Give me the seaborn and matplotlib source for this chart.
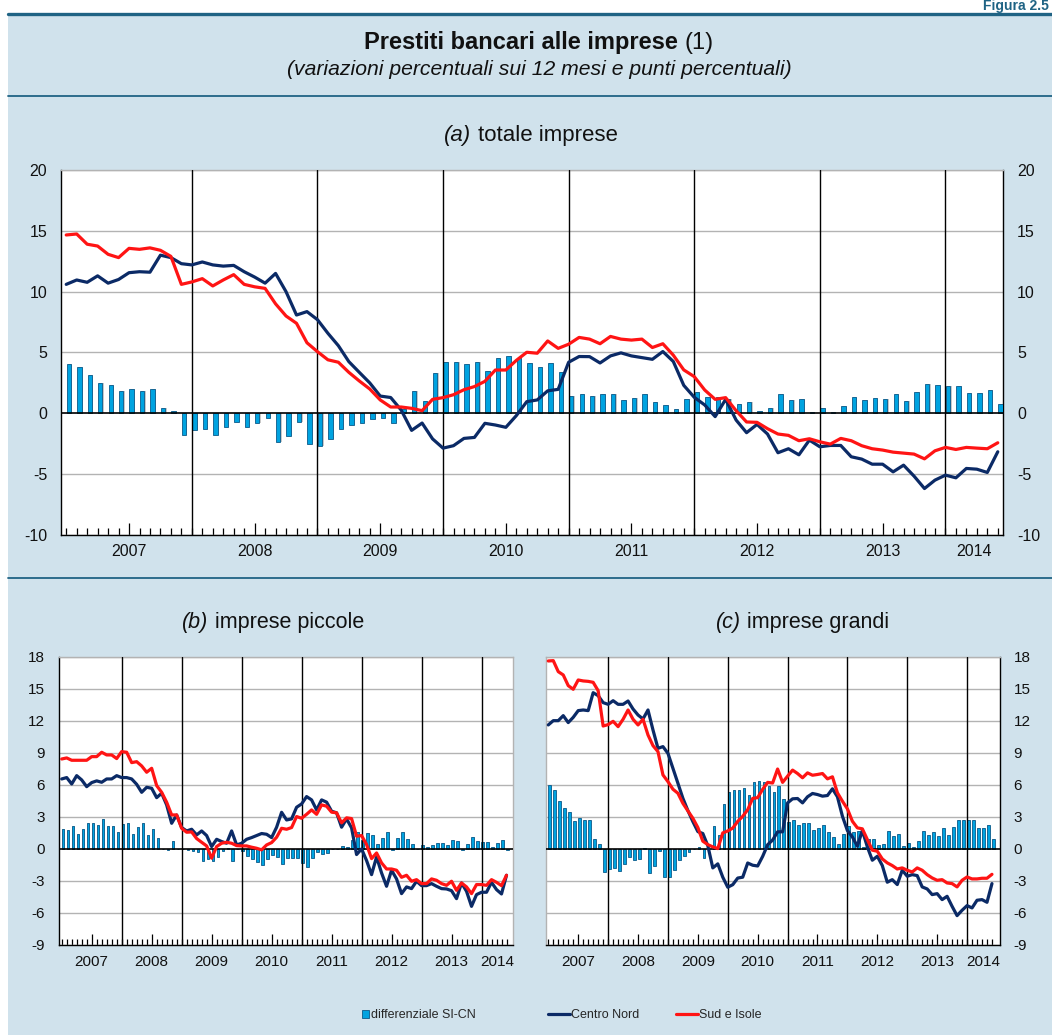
import numpy as np
import pandas as pd
import matplotlib
matplotlib.use("Agg")
import matplotlib.pyplot as plt
import matplotlib.transforms as mtransforms
from matplotlib.lines import Line2D
from matplotlib.patches import Rectangle, Patch
import seaborn as sns

# ---------------- data (monthly, Jan 2007 - Jun 2014) ----------------
years = [2007, 2008, 2009, 2010, 2011, 2012, 2013, 2014]
months = [f"{y}-{m:02d}" for y in years for m in range(1, 13)][:90]

# (a) totale imprese
a_diff = [4.05, 3.78, 3.12, 2.47, 2.33, 1.84, 1.97, 1.84, 1.97, 0.44, 0.19, -1.8,
          -1.37, -1.3, -1.75, -1.15, -0.74, -1.15, -0.82, -0.41, -2.38, -1.89, -0.68, -2.55,
          -2.66, -2.1, -1.26, -0.93, -0.77, -0.47, -0.36, -0.82, 0.33, 1.84, 1.02, 3.3,
          4.2, 4.2, 4.07, 4.2, 3.49, 4.53, 4.73, 4.53, 4.12, 3.79, 4.12, 3.38,
          1.43, 1.57, 1.43, 1.57, 1.57, 1.1, 1.26, 1.57, 0.96, 0.66, 0.33, 1.18,
          1.73, 1.32, 1.32, 1.18, 0.74, 0.91, 0.19, 0.44, 1.57, 1.1, 1.15, 0.08,
          0.41, 0.08, 0.58, 1.32, 1.07, 1.26, 1.15, 1.59, 0.99, 1.73, 2.39, 2.34,
          2.22, 2.28, 1.65, 1.65, 1.9, 0.74]
a_cn = [10.6, 10.96, 10.77, 11.3, 10.7, 11.0, 11.56, 11.64, 11.6, 13.0, 12.8, 12.3,
        12.2, 12.44, 12.2, 12.1, 12.16, 11.64, 11.2, 10.7, 11.5, 10.0, 8.08, 8.36,
        7.7, 6.58, 5.56, 4.25, 3.37, 2.5, 1.42, 1.3, 0.27, -1.4, -0.8, -2.1,
        -2.86, -2.66, -2.06, -1.98, -0.82, -0.96, -1.15, -0.19, 0.96, 1.1, 1.85, 1.97,
        4.2, 4.67, 4.66, 4.14, 4.72, 4.97, 4.72, 4.58, 4.44, 5.08, 4.26, 2.3,
        1.32, 0.69, -0.27, 1.15, -0.55, -1.59, -0.91, -1.70, -3.24, -2.91, -3.41, -2.2,
        -2.75, -2.64, -2.64, -3.57, -3.76, -4.18, -4.18, -4.81, -4.26, -5.16, -6.18, -5.49,
        -5.08, -5.3, -4.53, -4.59, -4.86, -3.16]
a_sud = [14.66, 14.74, 13.9, 13.75, 13.07, 12.8, 13.56, 13.48, 13.6, 13.4, 12.9, 10.6,
         10.8, 11.07, 10.47, 10.96, 11.4, 10.6, 10.4, 10.27, 9.0, 8.0, 7.4, 5.8,
         5.07, 4.4, 4.2, 3.37, 2.66, 2.0, 1.1, 0.52, 0.52, 0.41, 0.22, 1.15,
         1.29, 1.53, 1.94, 2.2, 2.63, 3.56, 3.56, 4.35, 5.02, 4.94, 5.95, 5.34,
         5.68, 6.24, 6.1, 5.72, 6.32, 6.1, 6.02, 6.1, 5.41, 5.72, 4.78, 3.57,
         3.02, 1.92, 1.15, 1.29, 0.22, -0.71, -0.74, -1.26, -1.70, -1.81, -2.25, -2.09,
         -2.34, -2.53, -2.06, -2.25, -2.66, -2.91, -3.02, -3.19, -3.27, -3.35, -3.74, -3.08,
         -2.8, -2.97, -2.8, -2.86, -2.91, -2.42]

# (b) imprese piccole
b_diff = [1.84, 1.78, 2.15, 1.4, 1.84, 2.46, 2.46, 2.25, 2.81, 2.15, 2.15, 1.62,
          2.34, 2.4, 1.4, 2.06, 2.43, 1.31, 1.84, 1.06, 0.0, -0.12, 0.78, 0.0,
          0.0, -0.12, -0.16, -0.3, -1.09, -0.97, -1.15, -0.72, -0.19, 0.12, -1.15, 0.0,
          -0.16, -0.66, -0.9, -1.25, -1.53, -0.97, -0.56, -0.78, -1.44, -0.87, -0.87, -0.87,
          -1.34, -1.72, -0.87, -0.31, -0.47, -0.38, -0.05, 0.0, 0.31, 0.19, 0.88, 1.59,
          0.88, 1.5, 1.34, 0.5, 1.03, 1.56, -0.06, 1.03, 1.56, 0.97, 0.5, 0.0,
          0.34, 0.19, 0.38, 0.53, 0.59, 0.38, 0.88, 0.72, -0.13, 0.5, 1.13, 0.78,
          0.69, 0.63, 0.19, 0.56, 0.81, -0.13]
b_cn = [6.55, 6.68, 6.08, 6.86, 6.46, 5.83, 6.21, 6.37, 6.24, 6.55, 6.55, 6.86,
        6.68, 6.68, 6.55, 6.05, 5.3, 5.77, 5.68, 4.8, 5.21, 4.12, 2.4, 3.18,
        2.0, 1.68, 1.84, 1.31, 1.68, 1.25, 0.22, 0.9, 0.69, 0.53, 1.68, 0.37,
        0.53, 0.9, 1.06, 1.25, 1.44, 1.37, 1.06, 2.03, 3.43, 2.71, 2.81, 3.9,
        4.21, 4.9, 4.59, 3.65, 4.59, 4.38, 3.53, 3.38, 2.03, 2.81, 1.97, -0.53,
        0.0, -1.09, -2.41, -0.75, -2.25, -3.5, -2.0, -2.81, -4.19, -3.56, -3.72, -3.03,
        -3.44, -3.44, -3.25, -3.5, -3.72, -3.75, -3.91, -4.66, -3.19, -3.97, -5.38, -4.28,
        -4.06, -4.06, -3.13, -3.81, -4.22, -2.47]
b_sud = [8.42, 8.52, 8.3, 8.3, 8.3, 8.3, 8.64, 8.64, 9.05, 8.8, 8.8, 8.46,
         9.11, 9.05, 8.08, 8.17, 7.77, 7.18, 7.55, 5.93, 5.3, 4.37, 3.18, 3.18,
         1.93, 1.56, 1.59, 0.97, 0.62, 0.28, -0.87, 0.22, 0.53, 0.62, 0.53, 0.31,
         0.28, 0.28, 0.16, 0.06, -0.09, 0.37, 0.59, 1.09, 1.93, 1.84, 2.0, 3.03,
         2.87, 3.24, 3.65, 3.24, 4.12, 4.0, 3.44, 3.38, 2.44, 2.91, 2.84, 1.19,
         1.25, 0.41, -0.91, -0.38, -1.31, -1.88, -1.88, -2.0, -2.66, -2.47, -3.03, -2.88,
         -3.25, -3.25, -2.81, -2.94, -3.25, -3.41, -3.03, -3.88, -3.19, -3.56, -4.19, -3.34,
         -3.34, -3.41, -2.88, -3.13, -3.44, -2.47]

# (c) imprese grandi
c_diff = [5.94, 5.56, 4.53, 3.84, 3.47, 2.59, 2.91, 2.69, 2.72, 0.94, 0.47, -2.19,
          -1.88, -1.78, -2.09, -1.38, -0.75, -1.0, -0.91, 0.09, -2.25, -1.56, -0.22, -2.63,
          -2.63, -2.0, -1.06, -0.63, -0.31, 0.0, 0.19, -0.84, 0.0, 2.13, 1.34, 4.25,
          5.34, 5.47, 5.47, 5.72, 5.03, 6.28, 6.38, 6.28, 5.88, 5.34, 5.88, 4.72,
          2.56, 2.75, 2.28, 2.38, 2.38, 1.75, 1.97, 2.25, 1.56, 1.12, 0.5, 1.44,
          2.19, 1.56, 1.72, 0.19, 0.94, 0.94, 0.41, 0.47, 1.72, 1.25, 1.44, 0.25,
          0.56, 0.19, 0.72, 1.66, 1.34, 1.56, 1.25, 1.94, 1.34, 2.09, 2.75, 2.75,
          2.75, 2.75, 1.97, 1.97, 2.22, 0.94]
c_cn = [11.61, 12.01, 12.01, 12.48, 11.83, 12.32, 12.95, 13.01, 12.95, 14.63, 14.35, 13.7,
        13.54, 13.88, 13.54, 13.54, 13.85, 13.1, 12.54, 12.17, 13.01, 11.14, 9.42, 9.58,
        8.95, 7.55, 6.15, 4.74, 3.59, 2.56, 1.62, 1.44, 0.3, -1.78, -1.4, -2.65,
        -3.59, -3.35, -2.73, -2.65, -1.32, -1.53, -1.6, -0.7, 0.39, 0.83, 1.6, 1.6,
        4.31, 4.69, 4.72, 4.31, 4.88, 5.19, 5.09, 4.94, 5.0, 5.63, 4.88, 3.06,
        1.72, 1.12, 0.25, 1.72, 0.19, -1.06, -0.69, -1.56, -3.12, -2.88, -3.34, -2.0,
        -2.56, -2.41, -2.5, -3.56, -3.75, -4.28, -4.19, -4.75, -4.44, -5.38, -6.25, -5.75,
        -5.31, -5.53, -4.81, -4.75, -5.0, -3.25]
c_sud = [17.6, 17.63, 16.6, 16.29, 15.29, 14.95, 15.82, 15.73, 15.69, 15.6, 14.82, 11.51,
         11.64, 11.95, 11.45, 12.14, 13.01, 12.14, 11.61, 12.14, 10.67, 9.67, 9.11, 6.93,
         6.3, 5.59, 5.21, 4.27, 3.56, 2.87, 2.0, 0.72, 0.4, 0.19, 0.03, 1.5,
         1.68, 1.95, 2.58, 3.05, 3.67, 4.73, 4.8, 5.58, 6.23, 6.17, 7.48, 6.23,
         6.81, 7.38, 7.06, 6.66, 7.12, 6.9, 6.97, 7.06, 6.56, 6.75, 5.25, 4.47,
         3.75, 2.59, 1.97, 1.88, 0.88, -0.12, -0.22, -0.94, -1.31, -1.56, -1.88, -1.78,
         -2.0, -2.16, -1.78, -2.0, -2.41, -2.72, -2.94, -2.88, -3.19, -3.25, -3.56, -2.94,
         -2.63, -2.81, -2.81, -2.75, -2.75, -2.38]

panel_titles = [("(a)", "totale imprese"), ("(b)", "imprese piccole"), ("(c)", "imprese grandi")]
legend_labels = ["differenziale SI-CN", "Centro Nord", "Sud e Isole"]

# ---------------- style ----------------
sns.set_style("white")
plt.rcParams["font.family"] = ["Liberation Sans", "DejaVu Sans"]
plt.rcParams["axes.unicode_minus"] = False

BG = "#d0e2ec"
TEAL = "#1f6384"
NAVY = "#0b2a66"
RED = "#ff1414"
CYAN = "#00a3e0"
BAREDGE = "#0a5a8a"
GRID = "#b3b3b3"

W, H = 1052, 1035
fig = plt.figure(figsize=(W / 100, H / 100), dpi=100)
fig.patch.set_facecolor("white")


def fx(px):
    return px / W


def fy(py):
    return 1 - py / H


fig.add_artist(Rectangle((fx(8), 0), 1 - fx(8), fy(15), transform=fig.transFigure,
                         facecolor=BG, edgecolor="none", zorder=-10))
fig.add_artist(Line2D([fx(8), 1], [fy(14), fy(14)], transform=fig.transFigure,
                      color=TEAL, lw=2.4, zorder=1))
for yy in (96, 578):
    fig.add_artist(Line2D([fx(8), 1], [fy(yy), fy(yy)], transform=fig.transFigure,
                          color=TEAL, lw=1.3, zorder=1))
fig.text(fx(1049), fy(10), "Figura 2.5", fontsize=10, fontweight="bold", color=TEAL,
         ha="right", va="baseline")

renderer = fig.canvas.get_renderer()


def rich(xc, yb, parts, fs, gap=0.0):
    objs = []
    for s, kw in parts:
        t = fig.text(0, fy(yb), s, fontsize=fs, ha="left", va="baseline", color="#111111", **kw)
        objs.append((t, t.get_window_extent(renderer=renderer).width))
    gap_px = gap * fs * 100 / 72
    total = sum(w for _, w in objs) + gap_px * (len(objs) - 1)
    x0 = xc - total / 2
    for t, w in objs:
        t.set_x(fx(x0))
        x0 += w + gap_px


rich(539, 49, [("Prestiti bancari alle imprese", dict(fontweight="bold")), ("(1)", {})], 17, gap=0.28)
rich(539, 75, [("(variazioni percentuali sui 12 mesi e punti percentuali)", dict(style="italic"))], 15.2)

x = np.arange(len(months))


def draw_panel(ax, diff, cn, sud, ylim, ystep, xlim, barw, tlen, left_lab, right_lab,
               left_col, right_col, ylab_off, fs_tick, fs_year):
    ax.set_facecolor("white")
    for v in np.arange(ylim[0], ylim[1] + 0.1, ystep):
        if v != 0:
            ax.axhline(v, color=GRID, lw=1.0, zorder=1)
    df = pd.DataFrame({"x": x + 0.25, "v": diff})
    shadow = df.assign(x=df["x"] + 0.12)
    sns.barplot(data=shadow, x="x", y="v", native_scale=True, width=barw, color="#c8c8c8",
                saturation=1, errorbar=None, linewidth=0, zorder=2, ax=ax)
    sns.barplot(data=df, x="x", y="v", native_scale=True, width=barw, color=CYAN,
                saturation=1, errorbar=None, edgecolor=BAREDGE, linewidth=0.6, zorder=3, ax=ax)
    ax.axhline(0, color="black", lw=1.2, zorder=4)
    for k in range(1, 8):
        ax.axvline(12 * k, color="black", lw=1.0, zorder=4)
    sns.lineplot(x=x, y=cn, color=NAVY, lw=2.3, ax=ax, zorder=5, legend=False)
    sns.lineplot(x=x, y=sud, color=RED, lw=2.3, ax=ax, zorder=6, legend=False)
    ax.set_xlim(*xlim)
    ax.set_ylim(*ylim)
    yt = np.arange(ylim[0], ylim[1] + 0.1, ystep)
    ax.set_yticks(yt)
    ax.set_yticklabels([f"{int(v)}" for v in yt])
    ax.tick_params(axis="y", length=0, labelsize=fs_tick, pad=10,
                   labelleft=left_lab, labelright=right_lab, labelcolor="#111111")
    ax.set_xticks([i for i in x if i % 12 != 6])
    ax.set_xticks([i for i in x if i % 12 == 6], minor=True)
    ax.tick_params(axis="x", which="major", direction="in", length=tlen[0], width=0.9,
                   color="black", labelbottom=False, bottom=True)
    ax.tick_params(axis="x", which="minor", direction="in", length=tlen[1], width=0.9,
                   color="black", labelbottom=False, bottom=True)
    ax.set_xlabel("")
    ax.set_ylabel("")
    for sname, col in (("left", left_col), ("right", right_col), ("top", GRID), ("bottom", "black")):
        ax.spines[sname].set_visible(True)
        ax.spines[sname].set_color(col)
        ax.spines[sname].set_linewidth(1.0)
    trans = mtransforms.blended_transform_factory(ax.transData, ax.transAxes)
    trans = mtransforms.offset_copy(trans, fig=fig, y=-ylab_off, units="dots")
    for k, yr in enumerate(years):
        lo = max(12 * k, xlim[0])
        hi = min(12 * k + 12, xlim[1])
        ax.text((lo + hi) / 2, 0, str(yr), transform=trans, ha="center", va="center",
                fontsize=fs_year, color="#111111")


ax_a = fig.add_axes([fx(61), fy(535), fx(1003 - 61), (535 - 170) / H])
draw_panel(ax_a, a_diff, a_cn, a_sud, (-10, 20), 5, (-0.5, 89.5), 0.42, (5, 9),
           True, True, "black", "black", 16, 11.5, 11.5)

ax_b = fig.add_axes([fx(58.7), fy(945), fx(513 - 58.7), (945 - 656.7) / H])
draw_panel(ax_b, b_diff, b_cn, b_sud, (-9, 18), 3, (-0.6, 90.3), 0.55, (4, 8),
           True, False, "black", GRID, 17, 11, 11)

ax_c = fig.add_axes([fx(546.3), fy(945), fx(999.7 - 546.3), (945 - 656.7) / H])
draw_panel(ax_c, c_diff, c_cn, c_sud, (-9, 18), 3, (-0.4, 90.55), 0.55, (4, 8),
           False, True, GRID, "black", 17, 11, 11)

for (tag, rest), xc, yb, fs in zip(panel_titles, (531, 273, 803), (141, 628, 628), (16, 15.5, 15.5)):
    rich(xc, yb, [(tag, dict(style="italic")), (rest, {})], fs, gap=0.28)

# legend
leg_fs = 9
handles = [Patch(facecolor=CYAN, edgecolor=BAREDGE, linewidth=0.6),
           Line2D([], [], color=NAVY, lw=2.3),
           Line2D([], [], color=RED, lw=2.3)]
lengths = [0.55, 1.75, 1.75]
for h, lab, x0, hl in zip(handles, legend_labels, (362, 547.7, 675.7), lengths):
    fig.legend(handles=[h], labels=[lab], loc="center left", bbox_to_anchor=(fx(x0), fy(1015)),
               frameon=False, fontsize=leg_fs, handlelength=hl, handleheight=0.6,
               handletextpad=0.15, borderpad=0, borderaxespad=0)

fig.savefig("out.png", dpi=100, facecolor=fig.get_facecolor())
